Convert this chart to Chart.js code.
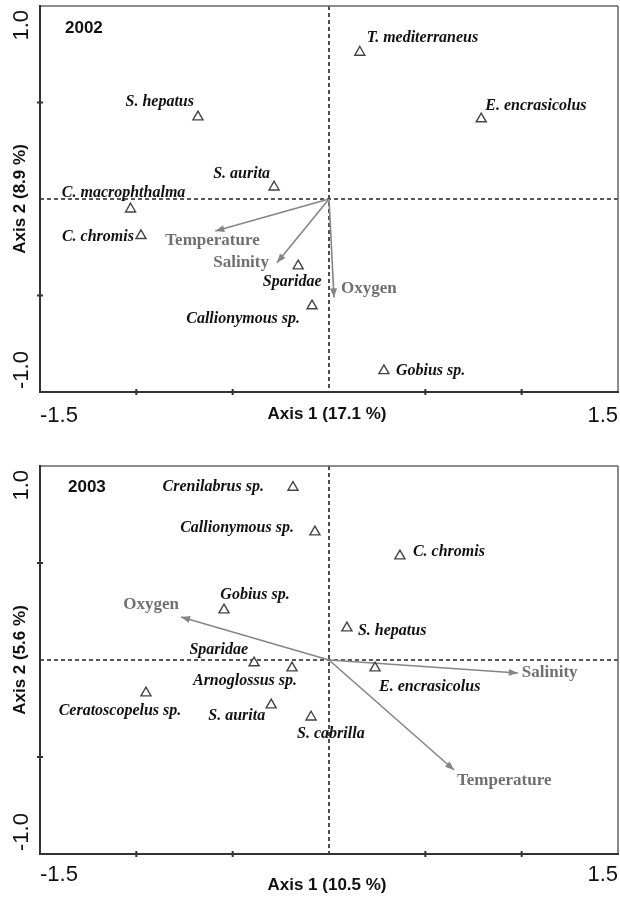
<!DOCTYPE html>
<html lang="en">
<head>
<meta charset="UTF-8">
<title>CCA ordination 2002 / 2003</title>
<script src="https://cdn.jsdelivr.net/npm/chart.js"></script>
<style>
  body { margin: 0; background: #fff; }
  canvas { position: absolute; left: 0; }
</style>
</head>
<body>
<canvas id="chart2002" width="620" height="440" style="top:0"></canvas>
<canvas id="chart2003" width="620" height="457" style="top:440px"></canvas>
<script>
// ---- values ----
const species2002 = ['T. mediterraneus', 'S. hepatus', 'E. encrasicolus', 'S. aurita', 'C. macrophthalma',
                     'C. chromis', 'Sparidae', 'Callionymous sp.', 'Gobius sp.'];
const axis1_2002 = [0.16, -0.68, 0.79, -0.285, -1.03, -0.976, -0.16, -0.088, 0.285];
const axis2_2002 = [0.76, 0.425, 0.415, 0.062, -0.052, -0.19, -0.347, -0.554, -0.89];
const env2002 = ['Temperature', 'Salinity', 'Oxygen'];
const envAxis1_2002 = [-0.59, -0.27, 0.026];
const envAxis2_2002 = [-0.166, -0.33, -0.51];

const species2003 = ['Crenilabrus sp.', 'Callionymous sp.', 'C. chromis', 'Gobius sp.', 'S. hepatus', 'Sparidae',
                     'Arnoglossus sp.', 'E. encrasicolus', 'Ceratoscopelus sp.', 'S. aurita', 'S. cabrilla'];
const axis1_2003 = [-0.187, -0.073, 0.368, -0.545, 0.093, -0.389, -0.192, 0.239, -0.95, -0.30, -0.093];
const axis2_2003 = [0.89, 0.66, 0.536, 0.258, 0.165, -0.015, -0.041, -0.041, -0.17, -0.232, -0.294];
const env2003 = ['Oxygen', 'Salinity', 'Temperature'];
const envAxis1_2003 = [-0.768, 0.98, 0.649];
const envAxis2_2003 = [0.222, -0.067, -0.567];

const xRange = [-1.5, 1.5];
const yRange = [-1.0, 1.0];
const xTickLabels = ['-1.5', '1.5'];
const yTickLabels = ['1.0', '-1.0'];
const xTitles = ['Axis 1 (17.1 %)', 'Axis 1 (10.5 %)'];
const yTitles = ['Axis 2 (8.9 %)', 'Axis 2 (5.6 %)'];
const years = ['2002', '2003'];

// label placement: [align, dx, dy] in px from the marker
const place2002 = [['left', 7, -14], ['right', -4, -15], ['left', 4, -13], ['right', -4, -13], ['center', -7, -16],
                   ['right', -7, 1], ['center', -6, 16], ['right', -12, 13], ['left', 12, 0]];
const envPlace2002 = [['left', -50, 10], ['right', -8, 0], ['left', 7, -9]];
const place2003 = [['right', -29, 0], ['right', -21, -4], ['left', 13, -4], ['center', 31, -15], ['left', 11, 3],
                   ['right', -6, -13], ['right', 5, 13], ['left', 4, 19], ['center', -26, 18], ['right', -6, 11],
                   ['left', -14, 17]];
const envPlace2003 = [['right', -2, -12], ['left', 4, 0], ['left', 3, 11]];

const SERIF = '"Liberation Serif", "DejaVu Serif", serif';
const SANS = '"Liberation Sans", Arial, sans-serif';
const ARROW = '#858585';

function seg(ctx, x1, y1, x2, y2) {
  ctx.beginPath(); ctx.moveTo(x1, y1); ctx.lineTo(x2, y2); ctx.stroke();
}

const ordPlugin = {
  id: 'ord',
  beforeDatasetsDraw(chart) {
    const { ctx, chartArea: a, scales: { x, y } } = chart;
    const x0 = x.getPixelForValue(0), y0 = y.getPixelForValue(0);
    ctx.save();
    ctx.setLineDash([4, 3]);
    ctx.strokeStyle = '#222';
    ctx.lineWidth = 1.6;
    seg(ctx, x0, a.top, x0, a.bottom);
    seg(ctx, a.left, y0, a.right, y0);
    ctx.restore();
  },
  afterDatasetsDraw(chart, args, o) {
    const { ctx, chartArea: a, scales: { x, y } } = chart;
    ctx.save();

    // arrow heads
    ctx.fillStyle = ARROW;
    for (let i = 1; i < chart.data.datasets.length; i++) {
      const pts = chart.getDatasetMeta(i).data;
      const p0 = pts[0], p1 = pts[1];
      const ang = Math.atan2(p1.y - p0.y, p1.x - p0.x);
      ctx.save();
      ctx.translate(p1.x, p1.y);
      ctx.rotate(ang);
      ctx.beginPath();
      ctx.moveTo(0, 0); ctx.lineTo(-9, -3.5); ctx.lineTo(-9, 3.5); ctx.closePath();
      ctx.fill();
      ctx.restore();
    }

    // frame
    ctx.strokeStyle = '#666'; ctx.lineWidth = 1.5;
    seg(ctx, a.left, a.top, a.right, a.top);
    seg(ctx, a.right, a.top, a.right, a.bottom);
    ctx.strokeStyle = '#333'; ctx.lineWidth = 2;
    seg(ctx, a.left, a.top - 1, a.left, a.bottom + 1);
    seg(ctx, a.left - 1, a.bottom, a.right + 1, a.bottom);

    // small tick marks
    ctx.lineWidth = 2;
    [-1, -0.5, 0.5, 1].forEach(v => {
      const px = x.getPixelForValue(v);
      seg(ctx, px, a.bottom - 3, px, a.bottom + 3);
    });
    [-0.5, 0.5].forEach(v => {
      const py = y.getPixelForValue(v);
      seg(ctx, a.left - 3, py, a.left + 3, py);
    });

    // species labels
    ctx.fillStyle = '#111';
    ctx.font = 'italic bold 16px ' + SERIF;
    ctx.textBaseline = 'middle';
    const meta = chart.getDatasetMeta(0);
    o.names.forEach((n, i) => {
      const p = meta.data[i], pl = o.place[i];
      ctx.textAlign = pl[0];
      ctx.fillText(n, p.x + pl[1], p.y + pl[2]);
    });

    // environmental variable labels
    ctx.fillStyle = '#707070';
    ctx.font = 'bold 17px ' + SERIF;
    o.env.forEach((n, i) => {
      const p = chart.getDatasetMeta(i + 1).data[1], pl = o.envPlace[i];
      ctx.textAlign = pl[0];
      ctx.fillText(n, p.x + pl[1], p.y + pl[2]);
    });

    // year
    ctx.fillStyle = '#111';
    ctx.font = 'bold 17px ' + SANS;
    ctx.textAlign = 'left';
    ctx.textBaseline = 'alphabetic';
    ctx.fillText(o.year, o.yearPos[0], o.yearPos[1]);

    // x tick labels and title
    ctx.font = '22px ' + SANS;
    ctx.textAlign = 'left';
    ctx.fillText(xTickLabels[0], a.left, a.bottom + o.tickGap);
    ctx.textAlign = 'right';
    ctx.fillText(xTickLabels[1], a.right, a.bottom + o.tickGap);
    ctx.font = 'bold 17px ' + SANS;
    ctx.textAlign = 'center';
    ctx.fillText(o.xTitle, x.getPixelForValue(0) - 2, a.bottom + o.titleGap);

    // y tick labels and title (rotated)
    ctx.save();
    ctx.translate(28, a.top + 4);
    ctx.rotate(-Math.PI / 2);
    ctx.font = '22px ' + SANS;
    ctx.textAlign = 'right';
    ctx.fillText(yTickLabels[0], 0, 0);
    ctx.restore();
    ctx.save();
    ctx.translate(28, a.bottom - 3);
    ctx.rotate(-Math.PI / 2);
    ctx.font = '22px ' + SANS;
    ctx.textAlign = 'left';
    ctx.fillText(yTickLabels[1], 0, 0);
    ctx.restore();
    ctx.save();
    ctx.translate(25, (a.top + a.bottom) / 2);
    ctx.rotate(-Math.PI / 2);
    ctx.font = 'bold 17px ' + SANS;
    ctx.textAlign = 'center';
    ctx.fillText(o.yTitle, 0, 0);
    ctx.restore();

    ctx.restore();
  }
};

function makePanel(id, names, xs, ys, env, ex, ey, extra, padding) {
  const datasets = [{
    data: xs.map((v, i) => ({ x: v, y: ys[i] })),
    pointStyle: 'triangle',
    pointRadius: 5.8,
    pointBackgroundColor: '#fff',
    pointBorderColor: '#444',
    pointBorderWidth: 1.4,
    showLine: false
  }];
  env.forEach((n, i) => {
    datasets.push({
      data: [{ x: 0, y: 0 }, { x: ex[i], y: ey[i] }],
      showLine: true,
      borderColor: ARROW,
      borderWidth: 1.6,
      pointRadius: 0
    });
  });
  return new Chart(document.getElementById(id), {
    type: 'scatter',
    data: { datasets },
    options: {
      responsive: false,
      animation: false,
      events: [],
      layout: { padding, autoPadding: false },
      scales: {
        x: { display: false, min: xRange[0], max: xRange[1] },
        y: { display: false, min: yRange[0], max: yRange[1] }
      },
      plugins: {
        legend: { display: false },
        tooltip: { enabled: false },
        ord: Object.assign({ names, env }, extra)
      }
    },
    plugins: [ordPlugin]
  });
}

makePanel('chart2002', species2002, axis1_2002, axis2_2002, env2002, envAxis1_2002, envAxis2_2002,
  { place: place2002, envPlace: envPlace2002, year: years[0], yearPos: [65, 33],
    xTitle: xTitles[0], yTitle: yTitles[0], tickGap: 30, titleGap: 27 },
  { left: 40, right: 2, top: 6, bottom: 48 });

makePanel('chart2003', species2003, axis1_2003, axis2_2003, env2003, envAxis1_2003, envAxis2_2003,
  { place: place2003, envPlace: envPlace2003, year: years[1], yearPos: [68, 52],
    xTitle: xTitles[1], yTitle: yTitles[1], tickGap: 27, titleGap: 36 },
  { left: 40, right: 2, top: 26, bottom: 43 });
</script>
</body>
</html>
